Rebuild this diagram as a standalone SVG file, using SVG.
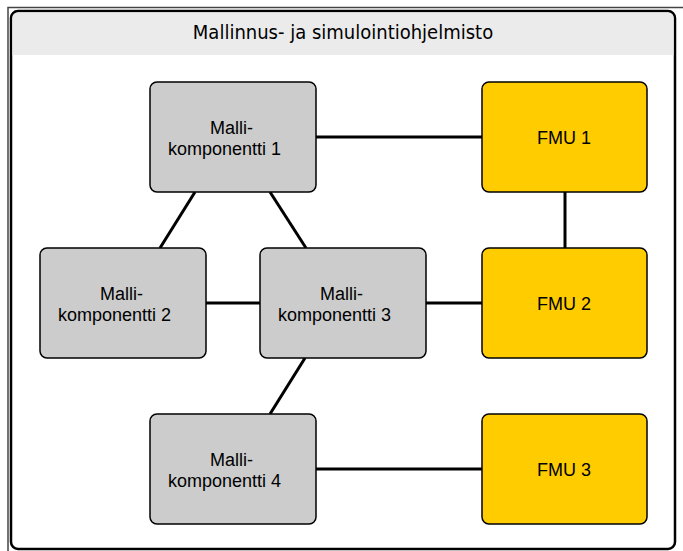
<svg xmlns="http://www.w3.org/2000/svg" width="683" height="551" viewBox="0 0 683 551">
<style>
.mk{fill:#cccccc;stroke:#000;stroke-width:1.5}
.fmu{fill:#ffcc00;stroke:#000;stroke-width:1.5}
.lbl{font-family:"Liberation Sans",Arial,sans-serif;font-size:18px;fill:#000;text-anchor:middle}
.ttl{font-family:"DejaVu Sans Condensed","DejaVu Sans",sans-serif;font-stretch:condensed;font-size:20px;fill:#000;text-anchor:middle}
.c{stroke:#000;stroke-width:3;fill:none}
</style>
<rect x="0" y="0" width="683" height="551" fill="#fff"/>
<g id="frame">
<path d="M8,551 V7.5 H683" fill="none" stroke="#444" stroke-width="1.5"/>
<rect x="11" y="11" width="664" height="538" rx="7" fill="#fff" stroke="#000" stroke-width="2.5"/>
<path d="M12.5,55 V18 a5.5,5.5 0 0 1 5.5,-5.5 H668 a5.5,5.5 0 0 1 5.5,5.5 V55 Z" fill="#ebebeb"/>
<text class="ttl" x="343" y="39">Mallinnus- ja simulointiohjelmisto</text>
</g>
<g id="connectors">
<line class="c" x1="316" y1="137" x2="482" y2="137"/>
<line class="c" x1="565" y1="192" x2="565" y2="248"/>
<line class="c" x1="195" y1="192" x2="160" y2="248"/>
<line class="c" x1="270" y1="192" x2="306" y2="248"/>
<line class="c" x1="206" y1="303" x2="260" y2="303"/>
<line class="c" x1="426" y1="303" x2="482" y2="303"/>
<line class="c" x1="305" y1="358" x2="270" y2="414"/>
<line class="c" x1="316" y1="469" x2="482" y2="469"/>
</g>
<g id="mk1"><rect class="mk" x="150" y="82" width="166" height="110" rx="7"/><text class="lbl" x="231.5" y="134">Malli-</text><text class="lbl" x="224.5" y="155">komponentti 1</text></g>
<g id="mk2"><rect class="mk" x="40" y="248" width="166" height="110" rx="7"/><text class="lbl" x="121.5" y="300">Malli-</text><text class="lbl" x="114.5" y="321">komponentti 2</text></g>
<g id="mk3"><rect class="mk" x="260" y="248" width="166" height="110" rx="7"/><text class="lbl" x="341.5" y="300">Malli-</text><text class="lbl" x="334.5" y="321">komponentti 3</text></g>
<g id="mk4"><rect class="mk" x="150" y="414" width="166" height="110" rx="7"/><text class="lbl" x="231.5" y="466">Malli-</text><text class="lbl" x="224.5" y="487">komponentti 4</text></g>
<g id="fmu1"><rect class="fmu" x="482" y="82" width="165" height="110" rx="7"/><text class="lbl" x="564" y="144">FMU 1</text></g>
<g id="fmu2"><rect class="fmu" x="482" y="248" width="165" height="110" rx="7"/><text class="lbl" x="564" y="310">FMU 2</text></g>
<g id="fmu3"><rect class="fmu" x="482" y="414" width="165" height="110" rx="7"/><text class="lbl" x="564" y="476">FMU 3</text></g>
</svg>
